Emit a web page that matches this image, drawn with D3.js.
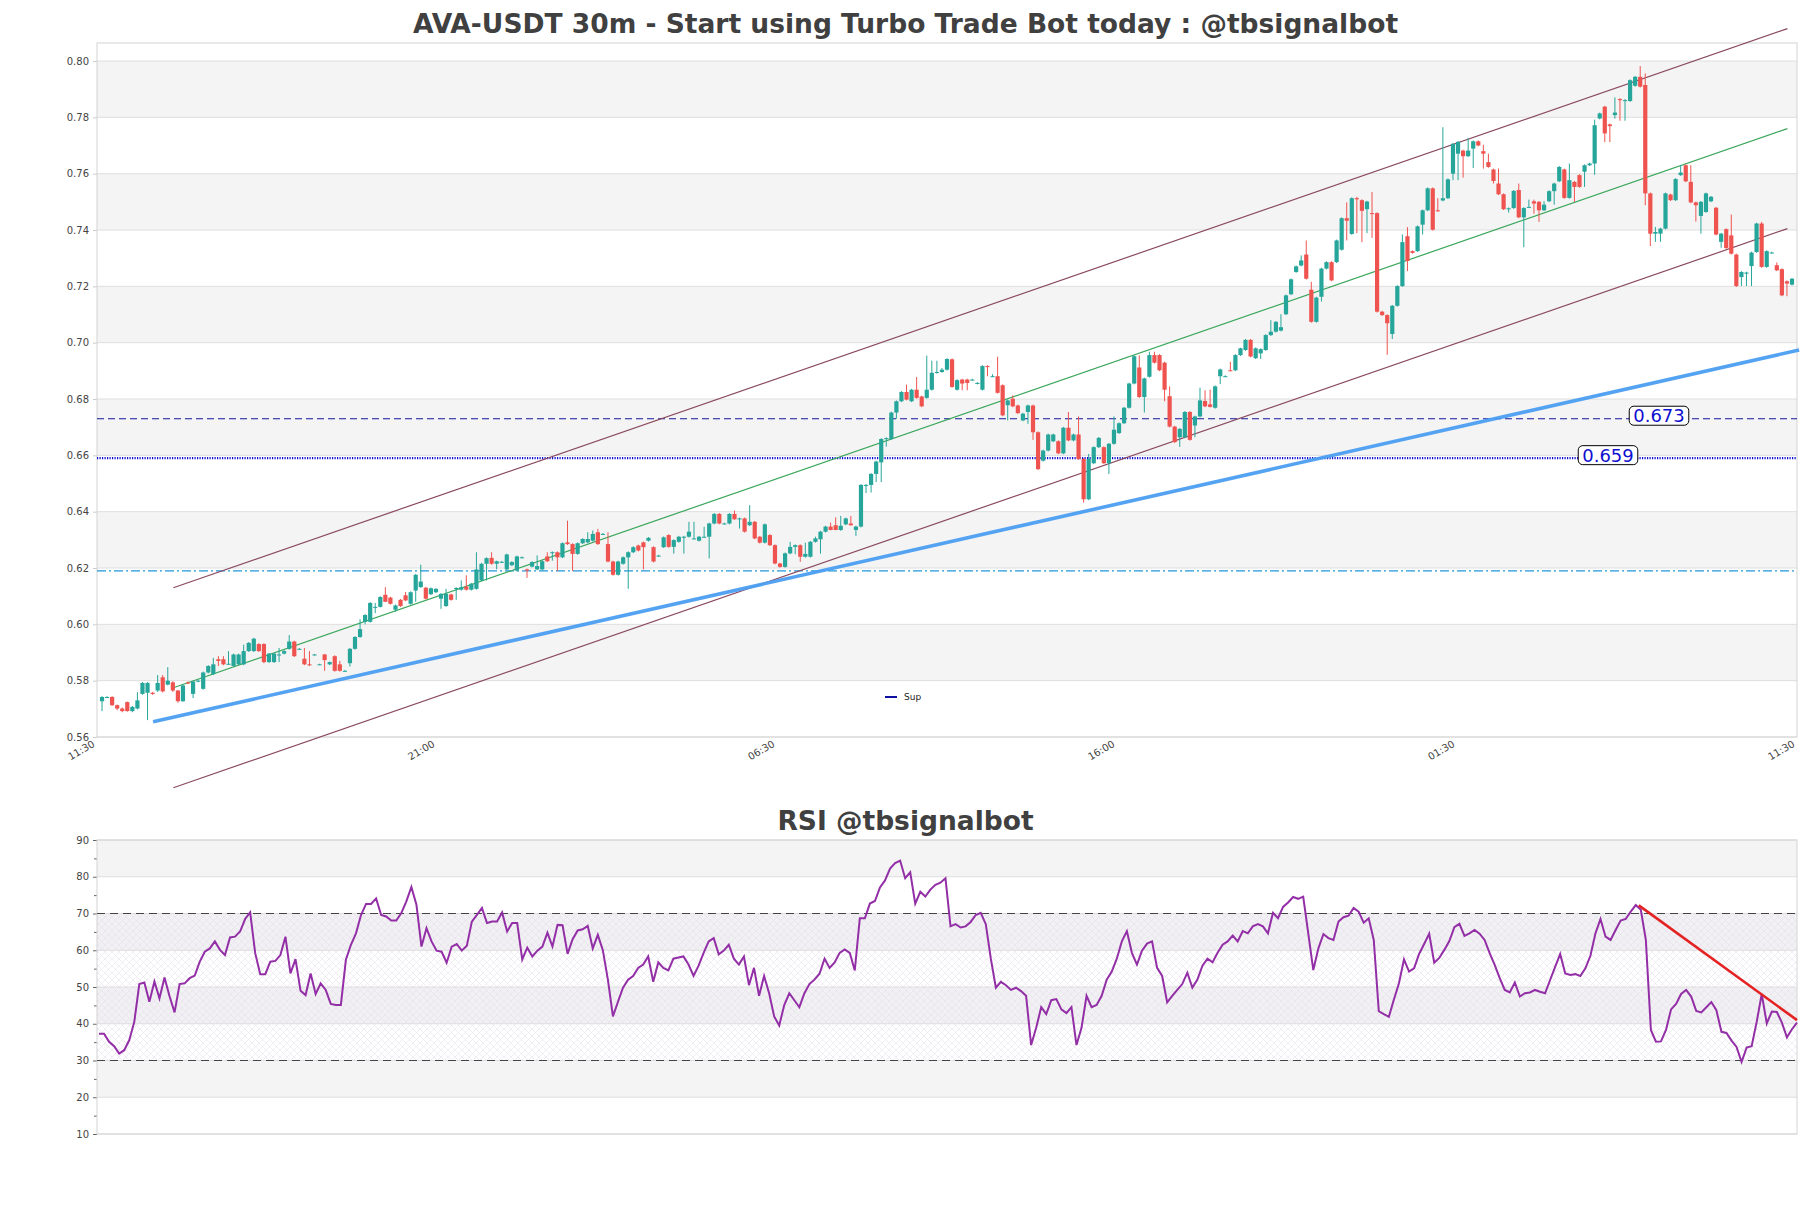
<!DOCTYPE html>
<html><head><meta charset="utf-8">
<script src="https://cdn.jsdelivr.net/npm/d3@7"></script>
<style>body{margin:0;background:#fff;} svg{display:block;font-family:"DejaVu Sans",sans-serif;}</style>
</head><body><svg id="c" width="1811" height="1208"></svg>
<script>
// ---------------- DATA ----------------
const opens=[
.5727,.5742,.5742,.5713,.5701,.5724,.5692,.5701,.5753,.5757,.5757,.5765,.5812,.5786,.5794,.5765,.5727,.5794,.5753,.5797,
.5771,.5829,.5823,.5876,.5876,.5858,.5852,.5858,.5858,.5905,.5905,.5930,.5930,.5866,.5866,.5893,.5896,.5913,.5939,.5913,
.5878,.5858,.5893,.5858,.5893,.5858,.5887,.5858,.5835,.5862,.5913,.5955,.6009,.6009,.6062,.6062,
.6105,.6095,.6052,.6087,.6103,.6073,.6120,.6132,.6130,.6107,.6114,.6091,.6065,.6106,.6129,.6123,.6134,.6123,.6126,.6156,
.6215,.6236,.6215,.6222,.6195,.6210,.6191,.6238,.6195,.6205,.6195,.6195,.6241,.6256,.6256,.6238,.6291,.6285,.6250,.6288,
.6291,.6297,.6327,.6321,.6285,.6223,.6176,.6215,.6238,.6256,.6280,.6291,.6297,.6274,.6244,.6274,.6317,
.6275,.6293,.6311,.6311,.6305,.6297,.6311,.6311,.6358,.6392,.6358,.6358,.6392,.6376,.6376,.6352,.6364,.6311,.6290,.6317,
.6281,.6216,.6204,.6252,.6275,.6281,.6240,.6240,.6293,.6302,.6329,.6347,.6352,.6335,.6355,.6358,.6335,.6347,.6495,.6495,
.6534,.6575,.6658,.6658,.6752,.6792,.6825,.6792,.6833,.6809,.6804,.6833,.6893,.6896,.6904,.6941,
.6833,.6869,.6869,.6869,.6855,.6833,.6917,.6881,.6881,.6849,.6778,.6801,.6777,.6724,.6754,.6777,.6682,.6581,.6617,.6650,
.6650,.6607,.6698,.6653,.6674,.6587,.6444,.6572,.6629,.6629,.6572,.6641,.6679,.6714,.6769,.6855,.6912,.6807,.6879,.6956,
.6956,.6929,.6810,.6702,.6664,.6664,.6754,.6706,.6738,.6793,.6781,.6769,.6881,.6881,.6902,.6902,.6956,
.6974,.7010,.6945,.6962,.6974,.7027,.7039,.7043,.7101,.7172,.7251,.7274,.7313,.7188,.7074,.7163,.7263,.7286,.7286,.7330,
.7442,.7386,.7513,.7506,.7474,.7460,.7460,.7110,.7098,.7031,.7131,.7201,.7378,.7325,.7325,.7419,.7470,.7548,.7470,.7505,
.7513,.7600,.7671,.7682,.7662,.7689,.7715,.7680,.7641,.7615,.7565,.7527,.7477,.7478,.7542,.7445,
.7482,.7502,.7500,.7470,.7502,.7538,.7573,.7615,.7514,.7571,.7595,.7607,.7630,.7636,.7796,.7838,.7775,.7808,.7865,.7861,
.7858,.7912,.7944,.7915,.7530,.7387,.7387,.7405,.7526,.7506,.7595,.7630,.7571,.7498,.7450,.7464,.7502,.7479,.7358,.7403,
.7381,.7313,.7233,.7245,.7272,.7322,.7423,.7269,.7320,.7275,.7261,.7218,.7206];
const highs=[
.5745,.5745,.5745,.5715,.5705,.5726,.5710,.5759,.5795,.5795,.5760,.5820,.5820,.5848,.5798,.5767,.5786,.5797,.5800,.5805,
.5832,.5855,.5881,.5887,.5887,.5905,.5896,.5896,.5928,.5937,.5952,.5933,.5933,.5898,.5898,.5916,.5908,.5962,.5942,.5916,
.5916,.5905,.5895,.5860,.5895,.5868,.5890,.5870,.5838,.5916,.5958,.6018,.6036,.6079,.6076,.6100,
.6132,.6098,.6070,.6090,.6115,.6117,.6179,.6212,.6133,.6131,.6128,.6111,.6126,.6109,.6132,.6156,.6174,.6147,.6256,.6218,
.6238,.6256,.6226,.6225,.6251,.6224,.6244,.6241,.6198,.6224,.6245,.6227,.6256,.6259,.6259,.6291,.6368,.6288,.6291,.6306,
.6327,.6333,.6339,.6324,.6327,.6226,.6226,.6241,.6259,.6277,.6283,.6294,.6310,.6277,.6247,.6312,.6320,
.6302,.6314,.6314,.6364,.6364,.6314,.6346,.6361,.6395,.6395,.6361,.6395,.6404,.6379,.6379,.6423,.6367,.6314,.6358,.6320,
.6284,.6219,.6255,.6293,.6284,.6284,.6290,.6296,.6311,.6332,.6350,.6361,.6380,.6385,.6379,.6385,.6350,.6498,.6498,.6537,
.6581,.6661,.6664,.6755,.6795,.6828,.6851,.6836,.6878,.6812,.6954,.6936,.6936,.6910,.6945,.6944,
.6870,.6872,.6872,.6872,.6860,.6920,.6920,.6888,.6950,.6852,.6798,.6813,.6780,.6751,.6780,.6780,.6685,.6620,.6677,.6677,
.6653,.6701,.6754,.6677,.6738,.6590,.6605,.6632,.6665,.6632,.6644,.6738,.6717,.6772,.6858,.6955,.6955,.6876,.6968,.6968,
.6959,.6932,.6845,.6705,.6697,.6757,.6757,.6741,.6840,.6831,.6833,.6848,.6908,.6884,.6932,.6959,.6982,
.7013,.7013,.6983,.6980,.7030,.7080,.7077,.7101,.7171,.7228,.7274,.7310,.7363,.7216,.7163,.7266,.7289,.7289,.7366,.7445,
.7498,.7516,.7518,.7509,.7504,.7535,.7463,.7113,.7101,.7134,.7204,.7384,.7410,.7328,.7416,.7473,.7551,.7551,.7513,.7765,
.7583,.7709,.7716,.7685,.7727,.7718,.7718,.7703,.7671,.7618,.7618,.7530,.7480,.7542,.7565,.7481,
.7508,.7508,.7503,.7502,.7541,.7568,.7627,.7618,.7636,.7574,.7598,.7633,.7639,.7792,.7817,.7841,.7778,.7871,.7868,.7865,
.7935,.7947,.7982,.7956,.7533,.7411,.7408,.7533,.7529,.7584,.7631,.7633,.7630,.7501,.7503,.7533,.7521,.7482,.7390,.7406,
.7455,.7316,.7254,.7252,.7323,.7426,.7429,.7328,.7323,.7285,.7264,.7221,.7230];
const lows=[
.5692,.5740,.5710,.5695,.5688,.5690,.5688,.5698,.5750,.5660,.5750,.5760,.5758,.5783,.5760,.5722,.5725,.5788,.5738,.5794,
.5768,.5826,.5820,.5852,.5855,.5856,.5850,.5855,.5855,.5902,.5902,.5902,.5862,.5863,.5863,.5866,.5893,.5910,.5884,.5910,
.5855,.5852,.5890,.5856,.5835,.5855,.5832,.5832,.5833,.5850,.5910,.5952,.6000,.6006,.6040,.6060,
.6080,.6070,.6045,.6062,.6082,.6070,.6080,.6130,.6088,.6104,.6111,.6055,.6062,.6084,.6087,.6120,.6120,.6120,.6123,.6153,
.6156,.6212,.6195,.6218,.6192,.6207,.6188,.6235,.6165,.6202,.6192,.6192,.6221,.6226,.6189,.6235,.6282,.6189,.6247,.6285,
.6288,.6294,.6282,.6318,.6220,.6173,.6173,.6212,.6126,.6253,.6259,.6195,.6294,.6220,.6241,.6271,.6272,
.6251,.6290,.6251,.6308,.6302,.6294,.6308,.6234,.6355,.6355,.6355,.6355,.6371,.6340,.6326,.6349,.6302,.6287,.6287,.6278,
.6213,.6201,.6201,.6249,.6249,.6222,.6237,.6237,.6290,.6251,.6326,.6334,.6334,.6332,.6352,.6350,.6314,.6344,.6466,.6468,
.6505,.6505,.6631,.6655,.6730,.6789,.6795,.6789,.6801,.6771,.6801,.6830,.6890,.6893,.6901,.6840,
.6830,.6831,.6831,.6866,.6852,.6830,.6881,.6878,.6819,.6739,.6724,.6771,.6747,.6721,.6712,.6655,.6548,.6578,.6614,.6647,
.6604,.6604,.6650,.6650,.6584,.6432,.6441,.6569,.6626,.6569,.6534,.6638,.6676,.6711,.6766,.6852,.6804,.6752,.6876,.6926,
.6899,.6792,.6699,.6644,.6630,.6661,.6652,.6664,.6735,.6771,.6770,.6766,.6853,.6878,.6899,.6899,.6953,
.6971,.6948,.6942,.6942,.6971,.7024,.7036,.7040,.7098,.7169,.7248,.7271,.7224,.7071,.7071,.7146,.7260,.7218,.7283,.7327,
.7363,.7383,.7389,.7357,.7389,.7372,.7107,.7095,.6957,.7013,.7128,.7198,.7254,.7316,.7322,.7384,.7467,.7398,.7465,.7502,
.7510,.7577,.7577,.7586,.7659,.7620,.7697,.7618,.7621,.7565,.7524,.7471,.7462,.7475,.7442,.7339,
.7479,.7458,.7429,.7467,.7499,.7490,.7570,.7511,.7511,.7500,.7550,.7553,.7627,.7596,.7793,.7712,.7712,.7795,.7788,.7788,
.7855,.7909,.7906,.7488,.7343,.7358,.7358,.7402,.7503,.7503,.7592,.7570,.7495,.7430,.7387,.7461,.7499,.7381,.7337,.7333,
.7313,.7198,.7201,.7201,.7201,.7319,.7266,.7266,.7317,.7254,.7165,.7165,.7203];
const closes=[
.5742,.5742,.5713,.5701,.5692,.5692,.5707,.5730,.5792,.5792,.5753,.5792,.5762,.5800,.5765,.5727,.5783,.5790,.5797,.5800,
.5829,.5852,.5858,.5870,.5858,.5860,.5893,.5893,.5905,.5934,.5949,.5905,.5866,.5896,.5896,.5893,.5905,.5939,.5887,.5913,
.5858,.5855,.5893,.5858,.5873,.5866,.5835,.5835,.5835,.5913,.5955,.5983,.6033,.6076,.6062,.6097,
.6080,.6073,.6067,.6065,.6085,.6114,.6176,.6152,.6091,.6128,.6126,.6108,.6108,.6087,.6129,.6132,.6123,.6144,.6195,.6215,
.6235,.6215,.6224,.6222,.6248,.6221,.6241,.6238,.6191,.6221,.6207,.6224,.6224,.6256,.6238,.6288,.6285,.6250,.6288,.6303,
.6303,.6321,.6285,.6321,.6223,.6176,.6223,.6238,.6256,.6274,.6262,.6274,.6307,.6223,.6244,.6309,.6275,
.6299,.6311,.6311,.6329,.6305,.6311,.6311,.6358,.6392,.6358,.6358,.6392,.6373,.6376,.6329,.6364,.6305,.6290,.6355,.6281,
.6216,.6204,.6252,.6275,.6281,.6240,.6250,.6293,.6305,.6329,.6347,.6335,.6335,.6350,.6376,.6352,.6347,.6495,.6495,.6534,
.6578,.6658,.6661,.6752,.6792,.6825,.6798,.6833,.6804,.6774,.6833,.6893,.6896,.6904,.6942,.6843,
.6867,.6855,.6857,.6869,.6857,.6917,.6914,.6881,.6822,.6742,.6795,.6774,.6750,.6748,.6777,.6682,.6551,.6617,.6674,.6674,
.6607,.6698,.6653,.6674,.6587,.6444,.6587,.6629,.6662,.6572,.6641,.6691,.6714,.6769,.6855,.6952,.6807,.6873,.6956,.6929,
.6902,.6833,.6702,.6647,.6694,.6754,.6655,.6738,.6795,.6774,.6772,.6845,.6905,.6881,.6900,.6956,.6980,
.7010,.6951,.6980,.6977,.7027,.7039,.7074,.7055,.7168,.7225,.7271,.7292,.7227,.7074,.7160,.7263,.7286,.7221,.7363,.7442,
.7433,.7513,.7509,.7468,.7501,.7457,.7110,.7098,.7069,.7131,.7201,.7357,.7290,.7319,.7413,.7470,.7548,.7401,.7468,.7513,
.7580,.7706,.7713,.7662,.7682,.7715,.7700,.7671,.7624,.7574,.7527,.7474,.7477,.7539,.7445,.7478,
.7482,.7494,.7470,.7490,.7538,.7565,.7624,.7514,.7577,.7553,.7553,.7630,.7636,.7772,.7814,.7743,.7769,.7817,.7861,.7861,
.7932,.7944,.7909,.7530,.7387,.7393,.7405,.7530,.7506,.7581,.7604,.7573,.7498,.7488,.7500,.7530,.7518,.7384,.7387,.7336,
.7316,.7201,.7251,.7249,.7320,.7423,.7269,.7325,.7320,.7257,.7168,.7210,.7227];
const rsiValues=[
37.3,37.3,35.1,33.9,31.9,32.8,35.5,40.5,50.8,51.2,46.0,51.5,46.9,52.6,47.5,43.1,50.8,51.0,52.4,53.1,
56.9,59.6,60.5,62.4,60.1,58.7,63.5,63.7,65.1,68.5,70.3,59.2,53.5,53.5,56.9,57.1,58.7,63.7,53.7,57.6,
49.0,47.8,53.7,48.1,51.0,49.2,45.4,45.1,45.1,57.4,61.5,64.6,69.6,72.6,72.6,74.1,69.6,69.2,68.1,68.1,
70.1,73.3,77.2,72.4,61.0,66.0,62.4,59.9,59.6,56.6,61.0,61.7,59.9,61.2,67.8,69.6,71.5,67.4,67.8,67.8,
70.3,65.1,67.4,67.4,57.5,60.7,58.3,59.9,61.0,64.8,61.0,66.9,66.8,59.0,63.0,65.4,65.7,66.6,60.5,64.2,
60,52,42,46,49.8,52.0,53.0,55.2,56.1,58.3,51.4,56.7,55.2,54.5,57.7,58.0,58.3,56.1,53.0,55.8,
59.3,62.4,63.3,58.9,59.9,61.5,57.7,56.1,58.3,50.5,55.2,47.6,53.0,48.3,42.0,39.5,45.1,48.3,46.4,44.5,
48.3,50.8,52.0,53.6,57.7,55.2,56.7,59.3,60.2,59.3,54.5,68.7,68.7,72.7,73.4,77.1,79.0,82.2,83.7,84.4,
79.6,81.2,72.7,75.9,74.6,76.5,77.8,78.4,79.6,66.5,67.1,66.2,66.5,67.7,69.6,70.2,67.1,57.7,49.8,51.4,
50.5,49.2,49.8,48.9,47.6,34.2,38.9,44.5,42.6,46.4,46.7,43.9,42.9,44.5,34.2,38.9,47.6,44.5,45.1,47.6,
52.0,54.2,57.7,62.4,65.2,59.3,56.1,59.9,61.8,62.4,55.2,53.0,45.8,47.6,49.2,50.8,53.9,49.8,52.0,55.8,
57.7,56.7,59.3,61.5,62.4,64.0,62.4,65.2,64.6,66.5,67.1,66.5,64.6,70.2,68.7,71.8,73.0,74.5,74.0,
74.6,64.6,54.6,60.5,64.4,63.3,62.8,67.8,69.0,69.4,71.5,70.5,67.5,68.7,62.8,43.4,42.6,41.9,46.6,51.0,
57.5,54.2,55.1,59.0,61.7,64.5,56.6,57.9,60.1,62.5,66.3,67.2,63.9,64.6,65.5,64.5,62.8,59.2,56.0,52.4,
49.2,48.5,51.2,47.4,48.3,48.5,49.2,48.7,48.3,51.9,55.5,59.0,53.7,53.3,53.5,53.0,55.1,58.5,64.6,68.5,
63.7,62.8,65.5,68.1,68.5,70.5,72.3,71.0,62.8,38.3,35.1,35.2,38.3,43.9,45.4,48.1,49.2,47.4,43.5,43.1,
44.5,45.9,43.7,37.8,37.5,35.4,33.7,29.6,33.5,33.9,40.5,48.1,40.1,43.3,43.2,40.3,36.3,38.5,40.3];
const xTickLabels=["11:30","21:00","06:30","16:00","01:30","11:30"];
const priceTicks=[0.56,0.58,0.60,0.62,0.64,0.66,0.68,0.70,0.72,0.74,0.76,0.78,0.80];
const priceBands=[[0.58,0.60],[0.62,0.64],[0.66,0.68],[0.70,0.72],[0.74,0.76],[0.78,0.80]];
const rsiTicks=[10,20,30,40,50,60,70,80,90];
const rsiMinorTicks=[15,25,35,45,55,65,75,85];
const rsiBands=[[80,90],[60,70],[40,50],[20,30]];
const rsiLevels=[70,30];
const resistanceLevel=0.673, supportLevel=0.659, lowerLevel=0.619;
const supportTrend=[[10.1,0.5654],[335.4,0.6974]];          // [candle index, price]
const channelMid=[[14.1,0.5775],[333.1,0.7760]];
const channelHalfWidth=0.0355;
const rsiTrend=[[305.6,72.2],[337,41.0]];                     // [rsi index, value]
const titleMain="AVA-USDT 30m - Start using Turbo Trade Bot today : @tbsignalbot";
const titleRsi="RSI @tbsignalbot";

// ---------------- LAYOUT ----------------
const svg=d3.select("#c");
const L=97,R=1797,T=43,B=737;
const RT=840,RB=1134;
const N=closes.length;
const x=d3.scaleLinear().domain([0,N-1]).range([102,1792]);
const xr=d3.scaleLinear().domain([0,rsiValues.length-1]).range([99,1797]);
const xt=d3.scaleLinear().domain([0,xTickLabels.length-1]).range([L,R]);
const y=d3.scaleLinear().domain([0.56,0.8064]).range([B,T]);
const yr=d3.scaleLinear().domain([10,90]).range([RB,RT]);

const defs=svg.append("defs");
const pat=defs.append("pattern").attr("id","hatch").attr("width",7).attr("height",7).attr("patternUnits","userSpaceOnUse");
pat.append("path").attr("d","M0,0L7,7M7,0L0,7").attr("stroke","#e3dbe9").attr("stroke-width",0.5).attr("fill","none");

// titles
svg.append("text").attr("x",905.5).attr("y",33).attr("text-anchor","middle").attr("font-size",26.5).attr("font-weight","bold").attr("fill","#404040").text(titleMain);
svg.append("text").attr("x",905.5).attr("y",830).attr("text-anchor","middle").attr("font-size",26.5).attr("font-weight","bold").attr("fill","#404040").text(titleRsi);

// ---- main panel ----
const g=svg.append("g");
g.selectAll("rect.band").data(priceBands).join("rect").attr("x",L).attr("width",R-L)
 .attr("y",d=>y(d[1])).attr("height",d=>y(d[0])-y(d[1])).attr("fill","#f4f4f4");
g.selectAll("line.grid").data(priceTicks).join("line").attr("x1",L).attr("x2",R)
 .attr("y1",d=>y(d)).attr("y2",d=>y(d)).attr("stroke","#dedede").attr("stroke-width",1);
const yAx=g.append("g").attr("transform",`translate(${L},0)`).call(d3.axisLeft(y).tickValues(priceTicks).tickFormat(d3.format(".2f")).tickSize(4).tickPadding(4));
yAx.select(".domain").remove();
yAx.selectAll("line").attr("stroke","#cccccc");
yAx.selectAll("text").attr("font-size",10).attr("fill","#444").attr("font-family","DejaVu Sans");
g.append("rect").attr("x",L).attr("y",T).attr("width",R-L).attr("height",B-T).attr("fill","none").attr("stroke","#d4d4d4");

const xAx=g.append("g").attr("transform",`translate(0,${B})`).call(d3.axisBottom(xt).tickValues(d3.range(xTickLabels.length)).tickFormat(i=>xTickLabels[i]).tickSize(0).tickPadding(0));
xAx.select(".domain").remove();
xAx.selectAll("text").attr("font-size",10).attr("fill","#444").attr("font-family","DejaVu Sans")
  .attr("text-anchor","end").attr("dy",null).attr("y",null).attr("transform","translate(-2,9) rotate(-30)");

// horizontal levels
g.append("line").attr("x1",L).attr("x2",R).attr("y1",y(lowerLevel)).attr("y2",y(lowerLevel)).attr("stroke","#2196d8").attr("stroke-width",1.3).attr("stroke-dasharray","9,3,2,3");
g.append("line").attr("x1",L).attr("x2",R).attr("y1",y(resistanceLevel)).attr("y2",y(resistanceLevel)).attr("stroke","#14149a").attr("stroke-width",1.2).attr("stroke-dasharray","7,4");
g.append("line").attr("x1",L).attr("x2",R).attr("y1",y(supportLevel)).attr("y2",y(supportLevel)).attr("stroke","#0a0ad0").attr("stroke-width",2.4).attr("stroke-dasharray","1.2,1.3");

// channel lines
const line=d3.line().x(d=>x(d[0])).y(d=>y(d[1]));
g.append("path").attr("d",line(channelMid.map(d=>[d[0],d[1]+channelHalfWidth]))).attr("stroke","#8a4a60").attr("stroke-width",1.2).attr("fill","none");
g.append("path").attr("d",line(channelMid.map(d=>[d[0],d[1]-channelHalfWidth]))).attr("stroke","#8a4a60").attr("stroke-width",1.2).attr("fill","none");
g.append("path").attr("d",line(channelMid)).attr("stroke","#3aa65a").attr("stroke-width",1.2).attr("fill","none");
g.append("path").attr("d",line(supportTrend)).attr("stroke","#4b9ef2").attr("stroke-width",3.6).attr("fill","none").attr("opacity",0.95);

// candles
const idx=d3.range(N);
const up=i=>closes[i]>=opens[i];
g.selectAll("line.wick").data(idx).join("line").attr("x1",i=>x(i)).attr("x2",i=>x(i))
 .attr("y1",i=>y(highs[i])).attr("y2",i=>y(lows[i])).attr("stroke",i=>up(i)?"#26a69a":"#ef5350").attr("stroke-width",1);
g.selectAll("rect.body").data(idx).join("rect").attr("x",i=>x(i)-2.1).attr("width",4.2)
 .attr("y",i=>y(Math.max(opens[i],closes[i])))
 .attr("height",i=>Math.max(1,Math.abs(y(opens[i])-y(closes[i]))))
 .attr("fill",i=>up(i)?"#26a69a":"#ef5350");

// level labels
const lg=g.append("g");
[[resistanceLevel,1659],[supportLevel,1608]].forEach(([v,cx])=>{
  const box=lg.append("rect");
  const t=lg.append("text").attr("x",cx).attr("y",y(v)-3).attr("text-anchor","middle").attr("dominant-baseline","central")
    .attr("font-size",18).attr("fill","#1010d0").text(v.toFixed(3));
  const bb=t.node().getBBox();
  box.attr("x",bb.x-4).attr("y",y(v)-12.5).attr("width",bb.width+8).attr("height",19)
    .attr("rx",4.5).attr("fill","#fff").attr("stroke","#000").attr("stroke-width",1);
});
// legend
g.append("line").attr("x1",885).attr("x2",897).attr("y1",697).attr("y2",697).attr("stroke","#1010a0").attr("stroke-width",2);
g.append("text").attr("x",904).attr("y",700).attr("font-size",9).attr("fill","#222").text("Sup");

// ---- RSI panel ----
const r=svg.append("g");
r.selectAll("rect.band").data(rsiBands).join("rect").attr("x",L).attr("width",R-L)
 .attr("y",d=>yr(d[1])).attr("height",d=>yr(d[0])-yr(d[1])).attr("fill",d=>(d[0]>=40&&d[1]<=70)?"#f1f0f3":"#f4f4f4");
r.append("rect").attr("x",L).attr("width",R-L).attr("y",yr(70)).attr("height",yr(30)-yr(70)).attr("fill","url(#hatch)");
r.selectAll("line.grid").data(rsiTicks).join("line").attr("x1",L).attr("x2",R)
 .attr("y1",d=>yr(d)).attr("y2",d=>yr(d)).attr("stroke","#dedede");
const ryAx=r.append("g").attr("transform",`translate(${L},0)`).call(d3.axisLeft(yr).tickValues(rsiTicks).tickSize(4).tickPadding(4));
ryAx.select(".domain").remove();
ryAx.selectAll("line").attr("stroke","#666");
ryAx.selectAll("text").attr("font-size",10).attr("fill","#444").attr("font-family","DejaVu Sans");
const rmAx=r.append("g").attr("transform",`translate(${L},0)`).call(d3.axisLeft(yr).tickValues(rsiMinorTicks).tickSize(3).tickFormat(""));
rmAx.select(".domain").remove();
rmAx.selectAll("line").attr("stroke","#666");
r.append("rect").attr("x",L).attr("y",RT).attr("width",R-L).attr("height",RB-RT).attr("fill","none").attr("stroke","#d4d4d4");
r.selectAll("line.lvl").data(rsiLevels).join("line").attr("x1",L).attr("x2",R).attr("y1",d=>yr(d)).attr("y2",d=>yr(d))
 .attr("stroke","#444").attr("stroke-width",1.1).attr("stroke-dasharray","8,5");
r.append("path").attr("d",d3.line().x((d,i)=>xr(i)).y(d=>yr(d))(rsiValues)).attr("fill","none").attr("stroke","#932fa6").attr("stroke-width",2);
r.append("path").attr("d",d3.line().x(d=>xr(d[0])).y(d=>yr(d[1]))(rsiTrend)).attr("fill","none").attr("stroke","#e52222").attr("stroke-width",2.6);
</script></body></html>
